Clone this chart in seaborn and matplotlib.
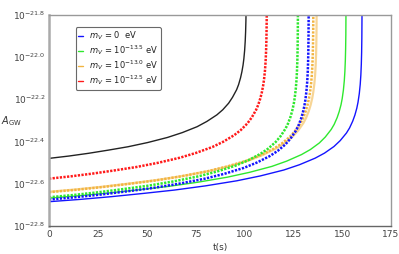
import numpy as np
import matplotlib
matplotlib.use('Agg')
import matplotlib.pyplot as plt
from matplotlib.lines import Line2D
import seaborn as sns

# t (s) and log10(A_GW), one pair of arrays per curve
t_black = [0, 10.1, 20.2, 30.3, 40.4, 50.5, 60.6, 68.2, 75.8, 80.8, 85.9, 88.9, 91.9, 93.9,
           96.0, 97.0, 98.0, 98.7, 99.3, 99.7, 100.1, 100.4, 100.6, 100.75, 100.85, 101.0]
y_black = [-22.480, -22.469, -22.456, -22.441, -22.425, -22.405, -22.381, -22.358, -22.330,
           -22.305, -22.274, -22.250, -22.219, -22.191, -22.155, -22.131, -22.099, -22.070,
           -22.038, -22.009, -21.969, -21.925, -21.881, -21.830, -21.774, -21.7]

t_red_dot = [0, 11.15, 22.3, 33.45, 44.6, 55.75, 66.9, 75.26, 83.63, 89.2, 94.78, 98.12,
             101.47, 103.7, 105.93, 107.04, 108.16, 108.94, 109.6, 110.05, 110.5, 110.83,
             111.05, 111.22, 111.33, 111.41, 111.5]
y_red_dot = [-22.576, -22.565, -22.552, -22.537, -22.521, -22.501, -22.477, -22.454, -22.426,
             -22.401, -22.370, -22.346, -22.315, -22.287, -22.251, -22.227, -22.195, -22.166,
             -22.134, -22.105, -22.065, -22.021, -21.977, -21.926, -21.870, -21.802, -21.7]

t_orange = [0, 13.7, 27.4, 41.1, 54.8, 68.5, 82.2, 92.48, 102.75, 109.6, 116.45, 120.56,
            124.67, 127.41, 130.15, 131.52, 132.89, 133.85, 134.67, 135.22, 135.77, 136.18,
            136.45, 136.66, 136.79, 136.89, 136.96, 137.0]
y_orange = [-22.638, -22.627, -22.614, -22.599, -22.583, -22.563, -22.539, -22.516, -22.488,
            -22.463, -22.432, -22.408, -22.377, -22.349, -22.313, -22.289, -22.257, -22.228,
            -22.196, -22.167, -22.127, -22.083, -22.039, -21.988, -21.932, -21.864, -21.757, -21.7]

t_orange_dot = [0, 13.53, 27.06, 40.59, 54.12, 67.65, 81.18, 91.33, 101.48, 108.24, 115.0,
                119.06, 123.12, 125.83, 128.54, 129.89, 131.24, 132.19, 133.0, 133.54, 134.08,
                134.49, 134.76, 134.96, 135.1, 135.19, 135.26, 135.3]
y_orange_dot = [-22.640, -22.629, -22.616, -22.601, -22.585, -22.565, -22.541, -22.518, -22.490,
                -22.465, -22.434, -22.410, -22.379, -22.351, -22.315, -22.291, -22.259, -22.230,
                -22.198, -22.169, -22.129, -22.085, -22.041, -21.990, -21.934, -21.866, -21.759, -21.7]

t_blue_dot = [0, 13.29, 26.58, 39.87, 53.16, 66.45, 79.74, 89.71, 99.68, 106.32, 112.97,
              116.95, 120.94, 123.6, 126.26, 127.58, 128.91, 129.84, 130.64, 131.17, 131.7,
              132.1, 132.37, 132.57, 132.7, 132.79, 132.86, 132.9]
y_blue_dot = [-22.675, -22.664, -22.651, -22.636, -22.620, -22.600, -22.576, -22.553, -22.525,
              -22.500, -22.469, -22.445, -22.414, -22.386, -22.350, -22.326, -22.294, -22.265,
              -22.233, -22.204, -22.164, -22.120, -22.076, -22.025, -21.969, -21.901, -21.794, -21.7]

t_green_dot = [0, 12.74, 25.48, 38.22, 50.96, 63.7, 76.44, 86.0, 95.55, 101.92, 108.29,
               112.11, 115.93, 118.48, 121.03, 122.3, 123.58, 124.47, 125.23, 125.74, 126.25,
               126.64, 126.89, 127.08, 127.21, 127.3, 127.36, 127.4]
y_green_dot = [-22.664, -22.653, -22.640, -22.625, -22.609, -22.589, -22.565, -22.542, -22.514,
               -22.489, -22.458, -22.434, -22.403, -22.375, -22.339, -22.315, -22.283, -22.254,
               -22.222, -22.193, -22.153, -22.109, -22.065, -22.014, -21.958, -21.890, -21.783, -21.7]

t_green = [0, 15.2, 30.4, 45.6, 60.8, 76.0, 91.2, 102.6, 114.0, 121.6, 129.2, 133.76, 138.32,
           141.36, 144.4, 145.92, 147.44, 148.5, 149.42, 150.02, 150.63, 151.09, 151.39,
           151.62, 151.77, 151.88, 151.95, 152.0]
y_green = [-22.668, -22.657, -22.644, -22.629, -22.613, -22.593, -22.569, -22.546, -22.518,
           -22.493, -22.462, -22.438, -22.407, -22.379, -22.343, -22.319, -22.287, -22.258,
           -22.226, -22.197, -22.157, -22.113, -22.069, -22.018, -21.962, -21.894, -21.787, -21.7]

t_blue = [0, 16.02, 32.04, 48.06, 64.08, 80.1, 96.12, 108.14, 120.15, 128.16, 136.17, 140.98,
          145.78, 148.99, 152.19, 153.79, 155.39, 156.52, 157.48, 158.12, 158.76, 159.24,
          159.56, 159.8, 159.96, 160.07, 160.15, 160.2]
y_blue = [-22.685, -22.674, -22.661, -22.646, -22.630, -22.610, -22.586, -22.563, -22.535,
          -22.510, -22.479, -22.455, -22.424, -22.396, -22.360, -22.336, -22.304, -22.275,
          -22.243, -22.214, -22.174, -22.130, -22.086, -22.035, -21.979, -21.911, -21.804, -21.7]

x_ticks = [0, 25, 50, 75, 100, 125, 150, 175]
y_ticks = [-22.8, -22.6, -22.4, -22.2, -22.0, -21.8]
legend_labels = [r'$m_V$ = 0  eV', r'$m_V$ = 10$^{-13.5}$ eV',
                 r'$m_V$ = 10$^{-13.0}$ eV', r'$m_V$ = 10$^{-12.5}$ eV']

BLUE = '#1414ff'
GREEN = '#2ee82e'
ORANGE = '#f2b440'
RED = '#ff1a1a'

sns.set_style('white')
plt.rcParams['font.family'] = ['DejaVu Sans']

fig = plt.figure(figsize=(3.99, 2.54), dpi=100)
ax = fig.add_axes([0.1228, 0.1102, 0.8572, 0.832])

dot = (0, (0.9, 0.55))
kw = dict(sort=False, estimator=None, ax=ax)

sns.lineplot(x=t_black, y=y_black, color='#222222', lw=1.0, **kw)
sns.lineplot(x=t_blue, y=y_blue, color=BLUE, lw=1.0, **kw)
sns.lineplot(x=t_green, y=y_green, color=GREEN, lw=1.0, **kw)
sns.lineplot(x=t_orange, y=y_orange, color=ORANGE, lw=1.6, alpha=0.55, **kw)
sns.lineplot(x=t_orange_dot, y=y_orange_dot, color=ORANGE, lw=1.8, linestyle=dot, **kw)
sns.lineplot(x=t_green_dot, y=y_green_dot, color=GREEN, lw=1.8, linestyle=dot, **kw)
sns.lineplot(x=t_blue_dot, y=y_blue_dot, color=BLUE, lw=1.8, linestyle=dot, **kw)
sns.lineplot(x=t_red_dot, y=y_red_dot, color=RED, lw=1.8, linestyle=dot, **kw)

ax.set_xlim(0, 175)
ax.set_ylim(-22.8, -21.8)
ax.set_xticks(x_ticks)
ax.set_xticklabels([str(v) for v in x_ticks])
ax.set_yticks(y_ticks)
ax.set_yticklabels([r'$10^{%.1f}$' % v for v in y_ticks])
ax.tick_params(axis='x', length=0, pad=3, labelsize=6.5, colors='#444444')
ax.tick_params(axis='y', length=1.5, width=0.8, pad=1, labelsize=6.5, colors='#444444')

for side in ['top', 'right']:
    ax.spines[side].set_color('#999999')
    ax.spines[side].set_linewidth(1.0)
ax.spines['left'].set_color('#aaaaaa')
ax.spines['left'].set_linewidth(1.8)
ax.spines['bottom'].set_color('#666666')
ax.spines['bottom'].set_linewidth(1.0)

ax.set_xlabel('t(s)', fontsize=6.5, color='#333333')
ax.xaxis.set_label_coords(0.5, -0.08)
ax.set_ylabel(r'$A_{\rm GW}$', fontsize=7, rotation=0, color='#333333', ha='center', va='center')
ax.yaxis.set_label_coords(-0.11, 0.497)

handles = [Line2D([], [], color=c, lw=1.0) for c in [BLUE, GREEN, ORANGE, RED]]
leg = ax.legend(handles, legend_labels, loc='upper left', bbox_to_anchor=(0.078, 0.94),
                borderaxespad=0, fontsize=6, handlelength=0.6, handletextpad=0.7,
                labelspacing=0.12, borderpad=0.3, frameon=True, fancybox=True)
leg.get_frame().set_edgecolor('#444444')
leg.get_frame().set_linewidth(0.8)
for txt in leg.get_texts():
    txt.set_color('#222222')

fig.savefig('out.png', dpi=100)
